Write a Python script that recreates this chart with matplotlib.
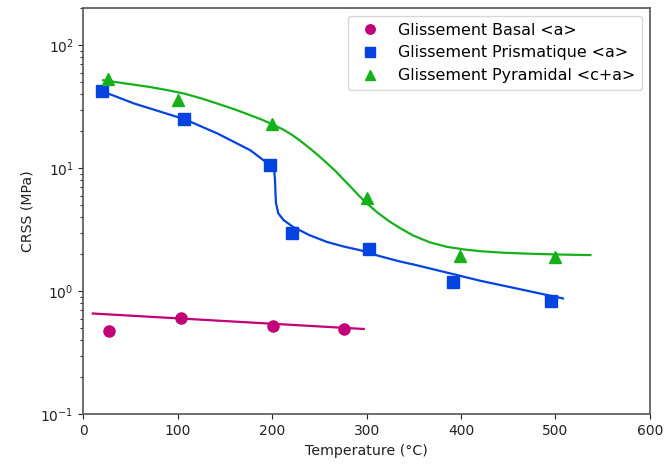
import matplotlib
matplotlib.use("Agg")
import matplotlib.pyplot as plt

# Data points
basal_T = [27, 103, 201, 276]
basal_tau = [0.48, 0.61, 0.52, 0.494]

prism_T = [20, 107, 198, 221, 303, 392, 495]
prism_tau = [42.3, 25.4, 10.7, 2.98, 2.22, 1.20, 0.83]

pyr_T = [26, 100, 200, 300, 399, 500]
pyr_tau = [53.6, 35.7, 22.8, 5.7, 1.92, 1.90]

# Fitted curves
basal_fit_T = [10, 297]
basal_fit_tau = [0.66, 0.494]

prism_fit_T = [20, 54, 107, 142, 177, 191, 199, 202, 203, 203.5, 204, 206.5, 212, 222, 240, 258, 275,
               293, 314, 335, 350, 385, 420, 465, 508]
prism_fit_tau = [42.3, 33.6, 25.1, 19.2, 14.0, 11.6, 10.6, 9.8, 8.0, 6.2, 5.2, 4.3, 3.8, 3.34, 2.85, 2.52, 2.32,
                 2.16, 1.93, 1.75, 1.65, 1.42, 1.22, 1.03, 0.875]

pyr_fit_T = [21, 46, 71, 89, 107, 125, 142, 160, 177, 189, 200, 212, 221, 229, 240, 249, 258, 267, 275,
             284, 293, 302, 311, 323, 335, 349, 367, 385, 403, 420, 445, 473, 505, 537]
pyr_fit_tau = [52, 48.8, 45.8, 43.2, 40.5, 37.0, 33.6, 30.2, 27.0, 24.9, 22.8, 20.6, 18.7, 16.9, 14.5, 12.7,
               11.0, 9.5, 8.2, 6.95, 5.87, 5.05, 4.40, 3.75, 3.28, 2.85, 2.50, 2.30, 2.19, 2.12, 2.06, 2.02,
               1.99, 1.97]

labels = ["Glissement Basal <a>", "Glissement Prismatique <a>", "Glissement Pyramidal <c+a>"]
c_basal = "#c20078"
c_prism = "#0343df"
c_pyr = "#15b01a"

fig = plt.figure(figsize=(6.7, 4.75), dpi=100)
ax = fig.add_axes([0.1244, 0.1278, 0.8456, 0.8547])

ax.plot(basal_fit_T, basal_fit_tau, color=c_basal, lw=1.6)
ax.plot(prism_fit_T, prism_fit_tau, color=c_prism, lw=1.6)
ax.plot(pyr_fit_T, pyr_fit_tau, color=c_pyr, lw=1.6)

ax.plot(basal_T, basal_tau, 'o', color=c_basal, ms=8, ls='none', label=labels[0])
ax.plot(prism_T, prism_tau, 's', color=c_prism, ms=8, ls='none', label=labels[1])
ax.plot(pyr_T, pyr_tau, '^', color=c_pyr, ms=8, ls='none', label=labels[2])

ax.set_yscale('log')
ax.set_xlim(0, 600)
ax.set_ylim(0.1, 200)
ax.set_xticks([0, 100, 200, 300, 400, 500, 600])
ax.tick_params(labelsize=10, colors='#222222')
ax.set_xlabel("Temperature (°C)", fontsize=10.2, color='#222222')
ax.set_ylabel("CRSS (MPa)", fontsize=10.2, color='#222222')
for s in ax.spines.values():
    s.set_color('#555555')
    s.set_linewidth(1.2)

ax.legend(loc='upper right', fontsize=11.4, markerscale=0.85)

fig.savefig("out.png", dpi=100)
